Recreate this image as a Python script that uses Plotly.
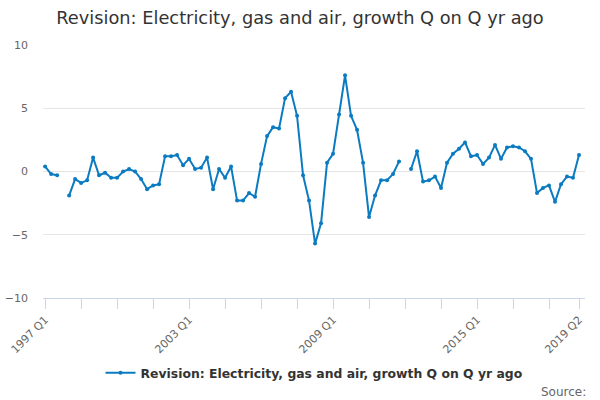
import plotly.graph_objects as go

# quarters 1997 Q1 .. 2019 Q2
quarters = [f"{1997 + i // 4} Q{i % 4 + 1}" for i in range(90)]

values = [
    0.4, -0.2, -0.3, None, -1.9, -0.6, -0.9, -0.7, 1.1, -0.3,
    -0.1, -0.5, -0.5, 0.0, 0.2, 0.0, -0.6, -1.4, -1.1, -1.0,
    1.2, 1.2, 1.3, 0.5, 1.0, 0.2, 0.3, 1.1, -1.4, 0.2,
    -0.5, 0.4, -2.3, -2.3, -1.7, -2.0, 0.6, 2.8, 3.5, 3.4,
    5.8, 6.3, 4.4, -0.3, -2.3, -5.7, -4.1, 0.7, 1.4, 4.5,
    7.6, 4.4, 3.3, 0.7, -3.6, -1.9, -0.7, -0.7, -0.2, 0.8,
    None, 0.2, 1.6, -0.8, -0.7, -0.4, -1.3, 0.7, 1.4, 1.8,
    2.3, 1.2, 1.3, 0.6, 1.1, 2.1, 1.0, 1.9, 2.0, 1.9,
    1.6, 1.0, -1.7, -1.3, -1.1, -2.4, -1.0, -0.4, -0.5, 1.3,
]

label_every = 24
tick_every = 6
series_name = "Revision: Electricity, gas and air, growth Q on Q yr ago"

x = list(range(len(quarters)))
tickvals = list(range(0, len(quarters), tick_every)) + [len(quarters) - 1]
ticktext = [quarters[t] if (t % label_every == 0 or t == len(quarters) - 1) else "" for t in tickvals]

fig = go.Figure()
fig.add_trace(go.Scatter(
    x=x, y=values, name=series_name, mode="lines+markers",
    line=dict(color="#0b7bc1", width=2),
    marker=dict(size=4, color="#0b7bc1"),
    connectgaps=False,
))

fig.update_layout(
    width=600, height=400,
    margin=dict(l=43, r=15, t=45, b=102, autoexpand=False),
    paper_bgcolor="white", plot_bgcolor="white",
    font=dict(family="DejaVu Sans", color="#666666", size=11),
    title=dict(text="Revision: Electricity, gas and air, growth Q on Q yr ago",
               x=0.5, xanchor="center", y=0.955, yanchor="middle",
               font=dict(size=17.8, color="#333333")),
    showlegend=True,
    legend=dict(orientation="h", x=0.5, xanchor="center", y=-0.297, yanchor="middle",
                font=dict(size=12.4, color="#333333", weight="bold")),
    xaxis=dict(
        range=[-0.35, 90.0], tickvals=tickvals, ticktext=ticktext,
        tickangle=-45, showgrid=False, zeroline=False, automargin=False,
        showline=True, linecolor="#ccd6eb", linewidth=1,
        ticks="outside", ticklen=10, tickcolor="#ccd6eb",
        tickfont=dict(size=11, color="#666666"),
    ),
    yaxis=dict(
        range=[-10, 10], dtick=5, showgrid=True, gridcolor="#e6e6e6",
        zeroline=False, ticks="", automargin=False,
        tickfont=dict(size=11, color="#666666"),
        ticklabelstandoff=14,
    ),
    annotations=[dict(text="Source:", xref="paper", yref="paper", x=1.005, y=-0.37,
                      xanchor="right", yanchor="middle", showarrow=False,
                      font=dict(size=12, color="#666666"))],
)

# page body has a default margin; drop it so the chart sits at the window's corner
fig.write_html("out.html", config={"displayModeBar": False},
               post_script="document.body.style.margin='0px';")
